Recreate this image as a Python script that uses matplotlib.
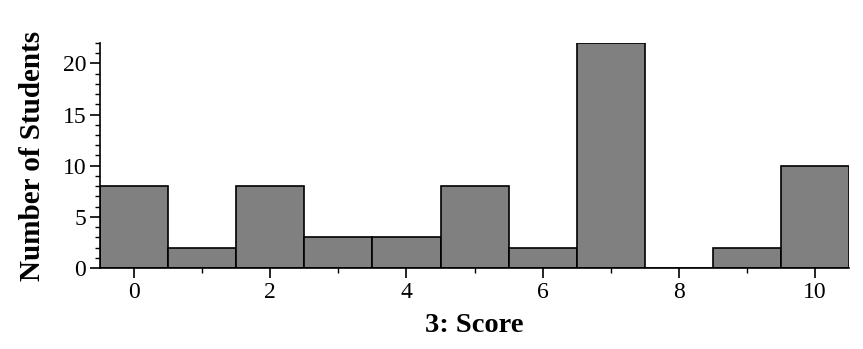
import matplotlib.pyplot as plt
from matplotlib.ticker import MultipleLocator

# Datos del histograma
scores = [0, 1, 2, 3, 4, 5, 6, 7, 8, 9, 10]
students = [8, 2, 8, 3, 3, 8, 2, 22, 0, 2, 10]

plt.rcParams['font.family'] = ['Liberation Serif', 'DejaVu Serif']

fig = plt.figure(figsize=(8.63, 3.49), dpi=100)
ax = fig.add_axes([0.1159, 0.232, 0.868, 0.645])

ax.bar(scores, students, width=1.0, color='#808080', edgecolor='black', linewidth=1.2)

ax.set_xlim(-0.5, 10.5)
ax.set_ylim(0, 22)
ax.spines['top'].set_visible(False)
ax.spines['right'].set_visible(False)
ax.spines['left'].set_linewidth(1.2)
ax.spines['bottom'].set_linewidth(1.2)

ax.xaxis.set_major_locator(MultipleLocator(2))
ax.xaxis.set_minor_locator(MultipleLocator(1))
ax.yaxis.set_major_locator(MultipleLocator(5))
ax.yaxis.set_minor_locator(MultipleLocator(1))
ax.tick_params(which='major', length=7, width=1.2, labelsize=17, direction='out', pad=3)
ax.tick_params(which='minor', length=3.5, width=1.0, direction='out')

ax.set_xlabel('3: Score', fontsize=20.5, fontweight='bold', labelpad=7)
ax.set_ylabel('Number of Students', fontsize=21, fontweight='bold', labelpad=12)

fig.savefig('out.png', dpi=100)
